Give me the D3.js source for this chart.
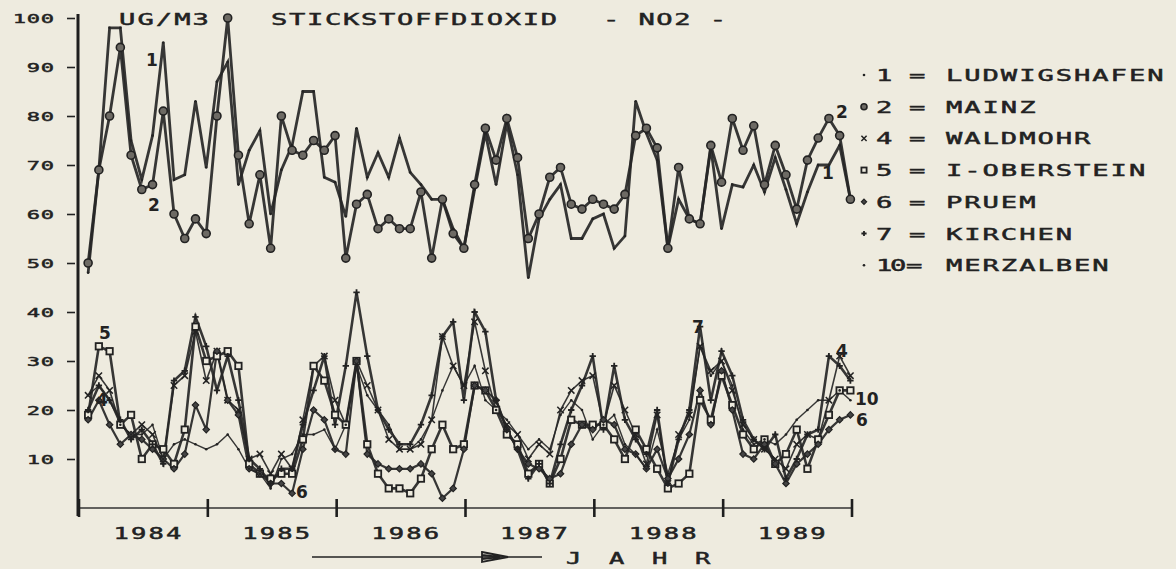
<!DOCTYPE html>
<html>
<head>
<meta charset="utf-8">
<script src="https://cdn.jsdelivr.net/npm/d3@7"></script>
<style>
body{margin:0;background:#eeebdf;}
svg{display:block;}
text{font-family:"DejaVu Sans Mono",monospace;font-weight:normal;fill:#222;stroke:#222;stroke-width:0.45px;}
</style>
</head>
<body>
<script>

let width=1176;
let height=569;

const years=["1984","1985","1986","1987","1988","1989"];
const yTicks=[10,20,30,40,50,60,70,80,90,100];

// monthly means jan 1984 - dec 1989, ug/m3
const ludwigshafen=[48,69,98,98,75,67,76,95,67,68,83,69.5,
 87,91,66,73,77,60,69,74,85,85,67.5,66.5,
 59.5,77.5,67.5,72.5,67.5,75.5,68.5,66,63,63,57,53,
 65,76.5,66,78.5,68,47,59,63,66,55,55,59,
 60,53,55.5,83,76.5,71,53,63,59,58,73.5,57,
 66,65.5,70,64.5,71.5,65,58,64.5,70,70,74,63];
const mainz=[50,69,80,94,72,65,66,81,60,55,59,56,
 80,100,72,58,68,53,80,73,72,75,73,76,
 51,62,64,57,59,57,57,64.5,51,63,56,53,
 66,77.5,71,79.5,71.5,55,60,67.5,69.5,62,61,63,
 62,61,64,76,77.5,73.5,53,69.5,59,58,74,66.5,
 79.5,73,78,66,74,68,61,71,75.5,79.5,76,63];
const waldmohr=[23,27,24,17,15,17,15,10,25,27,36,26,
 32,22,20,10,11,7,11,8,18,29,31,22,
 17,30,25,20,14,12,12,13,18,35,29,25,
 38,28,20,17,15,10,13,11,20,24,26,27,
 17,25,20,15,9,19,5,15,19,33,28,30,
 24,17,14,12,10,8,13,15,14,22,31,27];
const ioberstein=[19,33,32,17,19,10,13,12,9,16,37,30,
 31,32,29,9,7,6,7,7,14,29,26,19,
 17,30,13,7,4,4,3,6,12,17,12,13,
 25,24,20,15,13,7,9,5,10,18,17,17,
 17,14,10,16,12,8,4,5,7,22,18,27,
 21,15,12,14,9,11,16,8,14,19,24,24];
const pruem=[18,22,17,13,15,14,12,10,8,11,21,16,
 32,22,19,8,7,5,5,3,12,20,18,12,
 11,30,11,9,8,8,8,9,7,2,4,12,
 25,24,22,16,12,9,8,6,7,13,17,16,
 18,17,12,11,8,12,6,10,15,24,17,28,
 20,11,10,13,9,5,9,11,13,16,18,19];
const kirchen=[20,25,22,18,14,16,13,9,26,28,39,33,
 24,31,22,10,8,5,8,8,17,24,31,17,
 29,44,31,20,16,13,13,17,23,35,38,22,
 40,36,22,16,12,6,9,5,13,20,25,31,
 16,29,18,14,11,20,5,14,20,37,22,32,
 27,18,14,12,15,6,10,15,16,31,29,26];
const merzalben=[23,25,22,17,15,15,17,10,13,14,13,12,
 13,15,12,8,7,4,10,11,15,15,16,12,
 17,29,23,20,17,12,12,14,18,24,29,25,
 29,22,20,18,15,12,14,12,19,22,20,14,
 17,19,13,11,8,16,7,14,18,33,27,30,
 25,16,13,14,13,15,18,20,22,22,24,22];

const stations=[
 {nr:"1",name:"LUDWIGSHAFEN",data:ludwigshafen,marker:"dot",w:2.8},
 {nr:"2",name:"MAINZ",data:mainz,marker:"circle",w:2.8},
 {nr:"4",name:"WALDMOHR",data:waldmohr,marker:"cross",w:1.6},
 {nr:"5",name:"I-OBERSTEIN",data:ioberstein,marker:"square",w:2.6},
 {nr:"6",name:"PRUEM",data:pruem,marker:"diamond",w:2.2},
 {nr:"7",name:"KIRCHEN",data:kirchen,marker:"plus",w:2.6},
 {nr:"10",name:"MERZALBEN",data:merzalben,marker:"dot",w:1.4}
];

let svg=d3.select("body").append("svg")
.attr("width",width).attr("height",height);

let x=d3.scaleLinear().domain([0,72]).range([79,852]);
let y=d3.scaleLinear().domain([0,100]).range([508,18]);

let line=d3.line()
.x((d,i)=>x(i+0.85))
.y(d=>y(d));

// plotter lettering: wide glyphs, fixed pitch
let stretch=1.7;
function plotText(g,str,px,py,size,pitch,anchor){
 let glyph=0.602*size*stretch;
 let w=str.length*pitch-(pitch-glyph);
 let sx=px;
 if(anchor==="end") sx=px-w;
 if(anchor==="middle") sx=px-w/2;
 return g.append("text")
 .attr("transform","translate("+sx+","+py+") scale("+stretch+",1)")
 .attr("font-size",size)
 .attr("letter-spacing",pitch/stretch-0.602*size)
 .text(str);
}

// axes
let yAxis=svg.append("g").attr("transform","translate(75,0)")
.call(d3.axisLeft(y).tickValues(yTicks).tickSize(8).tickFormat(""));
yAxis.select(".domain").remove();
yAxis.selectAll("line").attr("stroke","#222").attr("stroke-width",1.6);

let yLabels=svg.append("g");
yTicks.forEach(function(t){
 plotText(yLabels,String(t),54,y(t)+5,13,14,"end");
});

svg.append("line").attr("x1",78).attr("x2",78).attr("y1",14).attr("y2",516)
.attr("stroke","#1e1e1e").attr("stroke-width",3);

svg.append("line").attr("x1",x(0)).attr("x2",x(72)).attr("y1",y(0)).attr("y2",y(0))
.attr("stroke","#333").attr("stroke-width",1.5);

svg.append("g").selectAll("line")
.data(d3.range(0,73,12))
.enter().append("line")
.attr("x1",d=>x(d)).attr("x2",d=>x(d))
.attr("y1",y(0)-9).attr("y2",y(0)+9)
.attr("stroke","#1e1e1e").attr("stroke-width",2.6);

let xLabels=svg.append("g");
years.forEach(function(yr,i){
 plotText(xLabels,yr,x(i*12+6)+4,539,15,17.5,"middle");
});

// title
let title=svg.append("g");
plotText(title,"UG/M3",119,25,16,18.4);
plotText(title,"STICKSTOFFDIOXID",271,25,16,18);
plotText(title,"- NO2 -",603,25,16,17.8);

// jahr arrow
svg.append("line").attr("x1",312).attr("x2",542).attr("y1",557).attr("y2",557)
.attr("stroke","#222").attr("stroke-width",1.6);
svg.append("path").attr("d","M482,552 L508,557 L482,562 Z M482,555 L500,557 L482,559")
.attr("fill","none").attr("stroke","#222").attr("stroke-width",1.8);
plotText(svg,"J A H R",566,564,15,21.5);

// series
let series=svg.append("g").attr("class","series");

stations.forEach(function(s){
 series.append("path")
 .datum(s.data)
 .attr("d",line)
 .attr("fill","none")
 .attr("stroke","#262626")
 .attr("stroke-width",s.w)
 .attr("stroke-linejoin","miter")
 .attr("stroke-opacity",0.92);
});

function drawMarker(g,type,cx,cy,size){
 if(type==="circle"){
  g.append("circle").attr("cx",cx).attr("cy",cy).attr("r",size)
  .attr("fill","#6d6a64").attr("stroke","#222").attr("stroke-width",1.6);
 }
 else if(type==="square"){
  g.append("rect").attr("x",cx-size).attr("y",cy-size).attr("width",size*2).attr("height",size*2)
  .attr("fill","#eeebdf").attr("stroke","#222").attr("stroke-width",1.8);
 }
 else if(type==="diamond"){
  g.append("path").attr("d","M"+cx+","+(cy-size)+" L"+(cx+size)+","+cy+" L"+cx+","+(cy+size)+" L"+(cx-size)+","+cy+" Z")
  .attr("fill","#444").attr("stroke","#222").attr("stroke-width",1.2);
 }
 else if(type==="plus"){
  g.append("path").attr("d","M"+(cx-size)+","+cy+" H"+(cx+size)+" M"+cx+","+(cy-size)+" V"+(cy+size))
  .attr("stroke","#222").attr("stroke-width",1.8);
 }
 else if(type==="cross"){
  g.append("path").attr("d","M"+(cx-size)+","+(cy-size)+" L"+(cx+size)+","+(cy+size)+" M"+(cx+size)+","+(cy-size)+" L"+(cx-size)+","+(cy+size))
  .attr("stroke","#222").attr("stroke-width",1.5);
 }
 else {
  g.append("circle").attr("cx",cx).attr("cy",cy).attr("r",size*0.5).attr("fill","#222");
 }
}

stations.forEach(function(s){
 let g=series.append("g");
 let size= s.marker==="circle"?4:(s.marker==="dot"?2.6:3.2);
 s.data.forEach(function(d,i){
  drawMarker(g,s.marker,x(i+0.85),y(d),size);
 });
});

// labels next to curves
const curveLabels=[
 {t:"1",x:146,y:66},{t:"2",x:148,y:211},{t:"2",x:836,y:118},{t:"1",x:822,y:179},
 {t:"5",x:99,y:339},{t:"4",x:96,y:406},{t:"6",x:296,y:498},{t:"7",x:692,y:333},
 {t:"4",x:836,y:357},{t:"10",x:855,y:405},{t:"6",x:856,y:426}
];
svg.append("g").selectAll("text")
.data(curveLabels)
.enter().append("text")
.text(d=>d.t)
.attr("x",d=>d.x).attr("y",d=>d.y)
.attr("font-size",17)
.style("font-family","'DejaVu Sans',sans-serif")
.style("font-weight","bold")
.style("stroke","none");

// legend
let legend=svg.append("g").attr("class","legend");
stations.forEach(function(s,i){
 let ly=75+i*31.7;
 drawMarker(legend,s.marker,864,ly,s.marker==="circle"?3:2.6);
 plotText(legend,s.nr,876,ly+6,16,14);
 plotText(legend,"=",s.nr.length>1?906:909,ly+6,16,14);
 plotText(legend,s.name,946,ly+6,16,18.3);
});

</script>
</body>
</html>
